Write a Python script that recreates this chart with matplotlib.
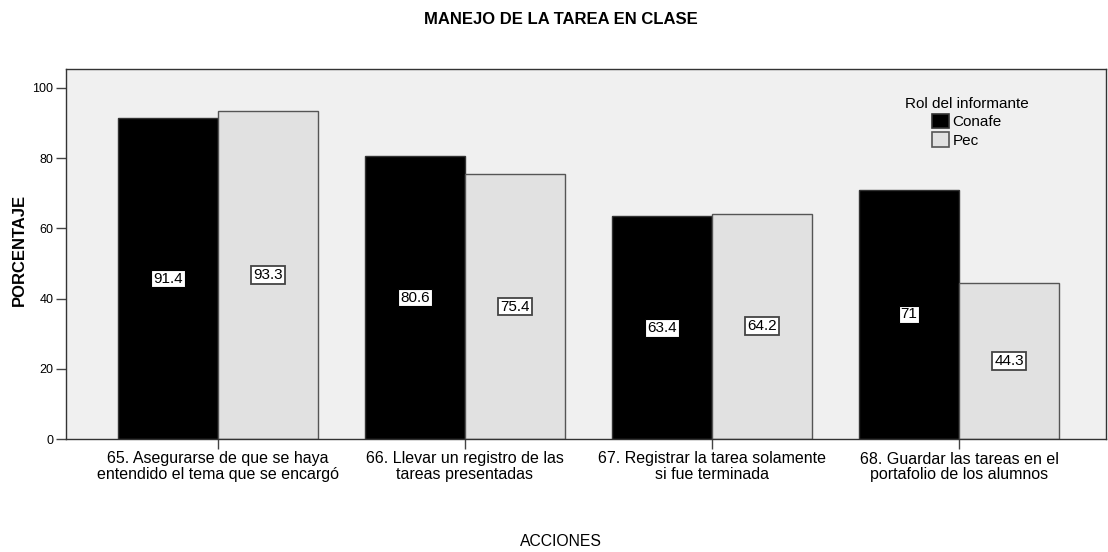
import matplotlib
matplotlib.use("Agg")
import matplotlib.pyplot as plt
import numpy as np

plt.rcParams['font.family'] = ['Liberation Sans', 'DejaVu Sans']

categories = ["65. Asegurarse de que se haya\nentendido el tema que se encargó",
              "66. Llevar un registro de las\ntareas presentadas",
              "67. Registrar la tarea solamente\nsi fue terminada",
              "68. Guardar las tareas en el\nportafolio de los alumnos"]
conafe = [91.4, 80.6, 63.4, 71]
pec = [93.3, 75.4, 64.2, 44.3]
conafe_labels = ["91.4", "80.6", "63.4", "71"]
pec_labels = ["93.3", "75.4", "64.2", "44.3"]
series_names = ["Conafe", "Pec"]
yticks = [0, 20, 40, 60, 80, 100]

W, H = 1108, 552
fig = plt.figure(figsize=(W/100, H/100), dpi=100)
ax = fig.add_axes([66/W, 113/H, 1040/W, 370/H])
ax.set_facecolor('#F0F0F0')

x = np.arange(len(categories))
w = 0.405
ax.bar(x - w/2, conafe, w, color='black', edgecolor='#333333', linewidth=1, label=series_names[0])
ax.bar(x + w/2, pec, w, color='#E1E1E1', edgecolor='#555555', linewidth=1, label=series_names[1])

for xi, v, lab in zip(x - w/2, conafe, conafe_labels):
    ax.text(xi, v/2, lab, ha='center', va='center', fontsize=11,
            bbox=dict(boxstyle='square,pad=0.12', fc='white', ec='black', lw=0.8))
for xi, v, lab in zip(x + w/2, pec, pec_labels):
    ax.text(xi, v/2, lab, ha='center', va='center', fontsize=11,
            bbox=dict(boxstyle='square,pad=0.12', fc='white', ec='#444444', lw=1.3))

ax.set_xlim(-0.615, 3.595)
ax.set_ylim(0, 105.4)
ax.set_yticks(yticks)
ax.set_xticks(x)
ax.set_xticklabels(categories, fontsize=11.5, linespacing=1.05)
ax.tick_params(axis='both', length=7, width=1, color='#444444')
ax.tick_params(axis='y', labelsize=9, pad=2)
ax.tick_params(axis='x', pad=2)
for s in ax.spines.values():
    s.set_color('#333333')
    s.set_linewidth(1)

fig.text(19/W, 1 - 250/H, "PORCENTAJE", rotation=90, ha='center', va='center',
         fontsize=12, fontweight='bold')
fig.text(561/W, 1 - 541/H, "ACCIONES", ha='center', va='center', fontsize=11.3)
fig.text(561/W, 1 - 19/H, "MANEJO DE LA TAREA EN CLASE", ha='center', va='center',
         fontsize=12, fontweight='bold')

leg = ax.legend(title="Rol del informante", loc='upper center',
                bbox_to_anchor=((967-66)/1040, (439-89)/370),
                frameon=False, fontsize=11, title_fontsize=11, borderpad=0,
                handlelength=1.1, handleheight=1.1, handletextpad=0.2, labelspacing=0.2)
leg._legend_box.align = "center"
for p in leg.get_patches():
    p.set_linewidth(1.2)

fig.savefig("out.png", dpi=100)
